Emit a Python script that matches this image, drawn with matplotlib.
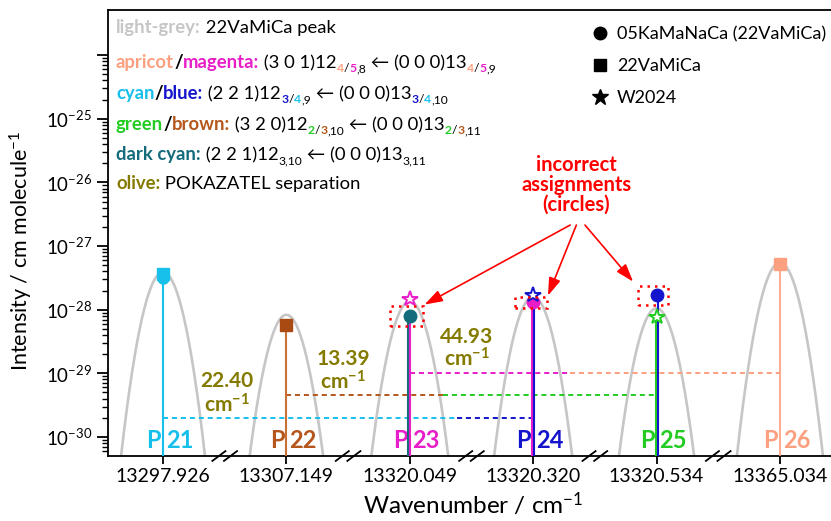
import numpy as np
import matplotlib.pyplot as plt
import matplotlib.transforms as mtransforms
from matplotlib.patches import Rectangle
from matplotlib.lines import Line2D
from matplotlib.ticker import FixedLocator, FixedFormatter, NullFormatter

plt.rcParams['font.family'] = ['Lato', 'DejaVu Sans']
plt.rcParams['mathtext.default'] = 'regular'

LGREY = '#c6c6c6'
APRICOT = '#fca080'
MAGENTA = '#e81ec8'
CYAN = '#17c0eb'
BLUE = '#1414cc'
GREEN = '#22cc22'
BROWN = '#b5571c'
DCYAN = '#146b7c'
OLIVE = '#857a00'

# lines of the P branch, one slot per line
branch_j = ['21', '22', '23', '24', '25', '26']
wavenumbers = ['13297.926', '13307.149', '13320.049', '13320.320', '13320.534', '13365.034']
branch_colors = [CYAN, BROWN, MAGENTA, BLUE, GREEN, APRICOT]
peak_intensity = [3.9e-28, 8.3e-29, 1.35e-28, 1.6e-28, 1.05e-28, 5.5e-28]

# 05KaMaNaCa (22VaMiCa) intensities
circle_idx = [0, 2, 3, 4]
circle_val = [3.2e-28, 7.9e-29, 1.3e-28, 1.7e-28]
circle_col = [CYAN, DCYAN, MAGENTA, BLUE]

# 22VaMiCa intensities
square_idx = [0, 1, 5]
square_val = [3.6e-28, 5.8e-29, 5.3e-28]
square_col = [CYAN, '#a84a12', APRICOT]

# W2024 intensities
star_idx = [2, 3, 4]
star_val = [1.48e-28, 1.7e-28, 7.7e-29]
star_col = [MAGENTA, BLUE, GREEN]

# stems: slot, pixel shift, top value, colour
stem_idx = [0, 1, 2, 2, 3, 3, 4, 4, 5]
stem_shift = [0, 0, -1.5, 0.5, -1.5, 1.0, -1.0, 1.0, 0]
stem_top = [3.2e-28, 5.8e-29, 7.9e-29, 7.9e-29, 1.3e-28, 1.3e-28, 7.7e-29, 1.7e-28, 5.3e-28]
stem_col = [CYAN, '#c87137', DCYAN, MAGENTA, MAGENTA, BLUE, GREEN, BLUE, APRICOT]

# POKAZATEL separations
sep_y = [2.0e-30, 4.6e-30, 1.02e-29]
sep_from = [0, 1, 2]
sep_to = [3, 4, 5]
sep_split = [2.38, 2.27, 3.30]
sep_col = [(CYAN, BLUE), (BROWN, GREEN), (MAGENTA, APRICOT)]
sep_text = ['22.40', '13.39', '44.93']
sep_text_x = [0.52, 1.46, 2.46]
sep_text_y = [10 ** -29.12, 10 ** -28.77, 10 ** -28.43]
sep_unit_y = [10 ** -29.50, 10 ** -29.14, 10 ** -28.77]

# dotted boxes around the wrong assignments
box_x = [(1.84, 2.11), (2.85, 3.11), (3.85, 4.09)]
box_y = [(10 ** -28.25, 10 ** -27.94), (10 ** -27.97, 10 ** -27.80), (10 ** -27.92, 10 ** -27.63)]
arrow_from = [(3.30, 10 ** -26.67), (3.35, 10 ** -26.67), (3.42, 10 ** -26.67)]
arrow_to = [(2.12, 10 ** -27.92), (3.12, 10 ** -27.78), (3.81, 10 ** -27.56)]

W, H = 831, 521
fig = plt.figure(figsize=(W / 100, H / 100), dpi=100)
ax = fig.add_axes([108 / W, 1 - 456 / H, 723 / W, 446 / H])
ax.set_yscale('log')
ybot = 10 ** -30.3
ax.set_ylim(ybot, 10 ** -23.29)
ax.set_xlim(-0.446, 5.414)

x = np.arange(len(branch_j))

# grey line profiles
for xi, pk in zip(x, peak_intensity):
    dx = np.linspace(-0.45, 0.45, 300)
    ax.plot(xi + dx, 10 ** (np.log10(pk) - 25 * dx ** 2), color=LGREY, lw=1.9, zorder=2)

# separation dashes
for y, a, b, s, (c1, c2) in zip(sep_y, sep_from, sep_to, sep_split, sep_col):
    ax.plot([a, s], [y, y], color=c1, lw=1.4, ls=(0, (2.6, 2.0)), zorder=3)
    ax.plot([s, b], [y, y], color=c2, lw=1.4, ls=(0, (2.6, 2.0)), zorder=3)
for tx, ty, uy, s in zip(sep_text_x, sep_text_y, sep_unit_y, sep_text):
    ax.text(tx, ty, s, color=OLIVE, fontsize=15, fontweight='bold', ha='center', va='center')
    ax.text(tx, uy, 'cm$^{-1}$', color=OLIVE, fontsize=15, fontweight='bold', ha='center', va='center')

# stems
for i, sh, top, c in zip(stem_idx, stem_shift, stem_top, stem_col):
    tr = mtransforms.offset_copy(ax.transData, fig=fig, x=sh, y=0, units='dots')
    ax.plot([x[i], x[i]], [ybot, top], color=c, lw=1.5, transform=tr, zorder=4,
            alpha=0.85 if c == APRICOT else 1)

# markers
for i, v, c in zip(square_idx, square_val, square_col):
    ax.plot(x[i], v, 's', color=c, ms=8, zorder=5)
for i, v, c in zip(circle_idx, circle_val, circle_col):
    ax.plot(x[i], v, 'o', color=c, ms=9 if i else 8, zorder=6)
for i, v, c in zip(star_idx, star_val, star_col):
    ax.plot(x[i], v, '*', mfc='white', mec=c, mew=1.4, ms=11.5, zorder=7)

# branch labels, split around the stem
for xi, j, c in zip(x, branch_j, branch_colors):
    ax.annotate('P', (xi, 10 ** -30.05), xytext=(-1.5, 0), textcoords='offset points',
                color=c, fontsize=17, fontweight='bold', ha='right', va='center')
    ax.annotate(j, (xi, 10 ** -30.05), xytext=(2, 0), textcoords='offset points',
                color=c, fontsize=17, fontweight='bold', ha='left', va='center')

# wrong assignments
for (x0, x1), (y0, y1) in zip(box_x, box_y):
    ax.add_patch(Rectangle((x0, y0), x1 - x0, y1 - y0, fill=False, ec='red', lw=1.8,
                           ls=(0, (1, 2)), zorder=8))
for p0, p1 in zip(arrow_from, arrow_to):
    ax.annotate('', xy=p1, xytext=p0,
                arrowprops=dict(arrowstyle='-|>,head_length=0.9,head_width=0.3',
                                color='red', lw=1.2, mutation_scale=12, shrinkA=0, shrinkB=0))
ax.text(3.35, 10 ** -26.04, 'incorrect\nassignments\n(circles)', color='red', fontsize=14.5,
        fontweight='bold', ha='center', va='center', linespacing=1.0)

# axes styling
ax.spines['right'].set_visible(False)
for side in ['left', 'bottom', 'top']:
    ax.spines[side].set_linewidth(1.3)
ax.set_xticks(x)
ax.set_xticklabels(wavenumbers, fontsize=14)
ax.tick_params(axis='x', length=6, width=1.3, pad=3)
majors = [10.0 ** e for e in range(-30, -23)]
ax.yaxis.set_major_locator(FixedLocator(majors))
ax.yaxis.set_major_formatter(FixedFormatter(['10$^{%d}$' % e for e in range(-30, -24)] + ['']))
minors = [m * 10.0 ** e for e in range(-31, -24) for m in range(2, 10)]
ax.yaxis.set_minor_locator(FixedLocator(minors))
ax.yaxis.set_minor_formatter(NullFormatter())
ax.tick_params(axis='y', which='major', length=8, width=1.3, labelsize=13.5)
ax.tick_params(axis='y', which='minor', length=4, width=1.0)

ax.set_xlabel('Wavenumber / cm$^{-1}$', fontsize=17.5)
ax.xaxis.set_label_coords(0.505, -0.078)
ax.set_ylabel('Intensity / cm molecule$^{-1}$', fontsize=15.5)
ax.yaxis.set_label_coords(-0.101, 0.46)

# axis breaks between slots
brk = mtransforms.blended_transform_factory(ax.transData, ax.transAxes)
for xb in x[:-1] + 0.5:
    for off in (-0.047, 0.047):
        ax.plot([xb + off - 0.053, xb + off + 0.053], [-0.011, 0.011], color='black',
                lw=1.3, transform=brk, clip_on=False, zorder=9)

# colour key, written piece by piece
renderer = fig.canvas.get_renderer()


def rich_line(x_px, y_px, parts, size=13.3):
    for s, c, bold, sub in parts:
        fs = size * 0.66 if sub else size
        yy = y_px + (4 if sub else 0)
        t = fig.text(x_px / W, 1 - yy / H, s, color=c, fontsize=fs,
                     fontweight='bold' if bold else 'normal', ha='left', va='baseline')
        x_px = t.get_window_extent(renderer).x1


K = 'black'
key_lines = [
    [('light-grey:', LGREY, True, False), (' 22VaMiCa peak', K, False, False)],
    [('apricot', APRICOT, True, False), ('/', K, True, False), ('magenta:', MAGENTA, True, False),
     (' (3 0 1)12', K, False, False), ('4', APRICOT, True, True), ('/', K, False, True),
     ('5', MAGENTA, True, True), (',8', K, False, True), (' \u2190 (0 0 0)13', K, False, False),
     ('4', APRICOT, True, True), ('/', K, False, True), ('5', MAGENTA, True, True), (',9', K, False, True)],
    [('cyan', CYAN, True, False), ('/', K, True, False), ('blue:', BLUE, True, False),
     (' (2 2 1)12', K, False, False), ('3', BLUE, True, True), ('/', K, False, True),
     ('4', CYAN, True, True), (',9', K, False, True), (' \u2190 (0 0 0)13', K, False, False),
     ('3', BLUE, True, True), ('/', K, False, True), ('4', CYAN, True, True), (',10', K, False, True)],
    [('green', GREEN, True, False), ('/', K, True, False), ('brown:', BROWN, True, False),
     (' (3 2 0)12', K, False, False), ('2', GREEN, True, True), ('/', K, False, True),
     ('3', BROWN, True, True), (',10', K, False, True), (' \u2190 (0 0 0)13', K, False, False),
     ('2', GREEN, True, True), ('/', K, False, True), ('3', BROWN, True, True), (',11', K, False, True)],
    [('dark cyan:', DCYAN, True, False), (' (2 2 1)12', K, False, False), ('3,10', K, False, True),
     (' \u2190 (0 0 0)13', K, False, False), ('3,11', K, False, True)],
    [('olive:', OLIVE, True, False), (' POKAZATEL separation', K, False, False)],
]
key_y = [33, 68, 99, 130, 160, 189]
for y, parts in zip(key_y, key_lines):
    rich_line(116, y, parts)

# marker key
key_markers = [('o', 9), ('s', 8), ('*', 12)]
key_names = ['05KaMaNaCa (22VaMiCa)', '22VaMiCa', 'W2024']
for k, ((m, ms), name) in enumerate(zip(key_markers, key_names)):
    yc = 33 + 32 * k
    fig.add_artist(Line2D([600 / W], [1 - yc / H], marker=m, ms=ms, color='black',
                          transform=fig.transFigure))
    fig.text(617 / W, 1 - (yc + 6) / H, name, fontsize=13, ha='left', va='baseline')

fig.savefig('out.png', dpi=100)
